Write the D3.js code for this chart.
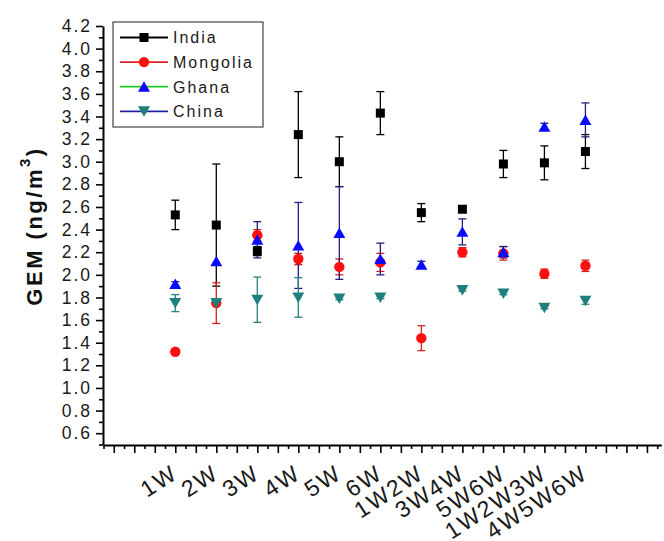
<!DOCTYPE html>
<html>
<head>
<meta charset="utf-8">
<script src="https://cdn.jsdelivr.net/npm/d3@7"></script>
<style>
  html, body { margin: 0; padding: 0; background: #fff; }
  svg { display: block; font-family: "Liberation Sans", Arial, sans-serif; }
</style>
</head>
<body>
<svg id="chart" width="664" height="541"></svg>
<script>
// ---- data ----
const categories = ["1W", "2W", "3W", "4W", "5W", "6W", "1W2W", "3W4W", "5W6W", "1W2W3W", "4W5W6W"];
const seriesNames = ["India", "Mongolia", "Ghana", "China"];
const india      = [2.53, 2.44, 2.21, 3.24, 3.00, 3.43, 2.55, 2.58, 2.98, 2.99, 3.09];
const indiaErr   = [0.13, 0.54, 0.04, 0.38, 0.22, 0.19, 0.08, 0.00, 0.12, 0.15, 0.15];
const mongolia   = [1.32, 1.75, 2.35, 2.14, 2.07, 2.11, 1.44, 2.20, 2.19, 2.01, 2.08];
const mongoliaErr= [0.02, 0.18, 0.05, 0.05, 0.07, 0.08, 0.11, 0.04, 0.06, 0.04, 0.05];
const ghana      = [1.92, 2.12, 2.31, 2.26, 2.37, 2.14, 2.09, 2.38, 2.20, 3.31, 3.37];
const ghanaErr   = [0.02, 0.00, 0.16, 0.38, 0.41, 0.14, 0.03, 0.115, 0.05, 0.03, 0.15];
const china      = [1.75, 1.75, 1.78, 1.80, 1.79, 1.80, null, 1.865, 1.835, 1.71, 1.77];
const chinaErr   = [0.075, 0.00, 0.20, 0.175, 0.01, 0.01, null, 0.01, 0.01, 0.01, 0.03];
const yMajorTicks = d3.range(6, 43, 2).map(v => v / 10);   // 0.6 ... 4.2
const yMinorTicks = d3.range(5, 42, 2).map(v => v / 10);   // 0.5 ... 4.1
const xTickValues = d3.range(-3, 52).map(v => v / 4);      // -0.75 ... 12.75

// ---- styles ----
const styles = {
  India:    { marker: "square",  fill: "#000000", err: "#000000", legendLine: "#000000" },
  Mongolia: { marker: "circle",  fill: "#ff1010", err: "#d42020", legendLine: "#e02424" },
  Ghana:    { marker: "up",      fill: "#0a0aff", err: "#202080", legendLine: "#22cc22" },
  China:    { marker: "down",    fill: "#1f7f7f", err: "#2a8080", legendLine: "#2020a0" }
};
const series = [
  { name: "India", values: india, errs: indiaErr },
  { name: "Mongolia", values: mongolia, errs: mongoliaErr },
  { name: "Ghana", values: ghana, errs: ghanaErr },
  { name: "China", values: china, errs: chinaErr }
];

const svg = d3.select("#chart");

const x = d3.scaleLinear().domain([-0.75, 12.85]).range([103.5, 661.3]);
const y = d3.scaleLinear().domain([0.5, 4.2]).range([444.5, 26]);

// ---- axes ----
const axisG = svg.append("g");
// y minor
axisG.append("g").attr("transform", "translate(103,0)")
  .call(d3.axisLeft(y).tickValues(yMinorTicks).tickSize(4).tickFormat(""))
  .call(g => g.select(".domain").remove())
  .call(g => g.selectAll("line").attr("stroke-width", 1.6));
// y major
const yAx = axisG.append("g").attr("transform", "translate(103,0)")
  .call(d3.axisLeft(y).tickValues(yMajorTicks).tickSize(7).tickSizeOuter(0).tickPadding(4).tickFormat(d3.format(".1f")));
yAx.select(".domain").attr("stroke-width", 2);
yAx.selectAll("line").attr("stroke-width", 1.6);
yAx.selectAll("text").attr("font-size", 17.5).attr("letter-spacing", "2px")
  .attr("fill", "#1a1a1a").attr("font-family", "Liberation Sans, Arial, sans-serif");

// x ticks
const xAx = axisG.append("g").attr("transform", "translate(0,445)")
  .call(d3.axisBottom(x).tickValues(xTickValues)
    .tickSize(0).tickSizeOuter(0).tickFormat(""));
xAx.select(".domain").attr("stroke-width", 2);
xAx.selectAll(".tick line")
  .attr("y2", d => (Math.abs(d * 2 - Math.round(d * 2)) < 1e-6) ? 8 : 4)
  .attr("stroke-width", 1.6);

// x category labels
svg.append("g").selectAll("text").data(categories).join("text")
  .attr("transform", (d, i) => `translate(${x(i + 1) + 4},477) rotate(-33)`)
  .attr("text-anchor", "end")
  .attr("font-size", 23)
  .attr("letter-spacing", "2px")
  .attr("fill", "#1a1a1a")
  .text(d => d);

// y label
const yl = svg.append("text")
  .attr("transform", "translate(42,226) rotate(-90)")
  .attr("text-anchor", "middle")
  .attr("font-size", 22)
  .attr("font-weight", "bold")
  .attr("letter-spacing", "2.5px")
  .attr("fill", "#111");
yl.append("tspan").text("GEM (ng/m");
yl.append("tspan").attr("font-size", 15).attr("dy", -12).text("3");
yl.append("tspan").attr("dy", 12).text(")");

// ---- marker helper ----
function drawMarker(g, type, cx, cy, fill) {
  if (type === "square") {
    g.append("rect").attr("x", cx - 4.5).attr("y", cy - 4.5).attr("width", 9).attr("height", 9).attr("fill", fill);
  } else if (type === "circle") {
    g.append("circle").attr("cx", cx).attr("cy", cy).attr("r", 5.2).attr("fill", fill);
  } else if (type === "up") {
    g.append("path").attr("d", `M${cx},${cy - 5.5}L${cx + 6},${cy + 5}L${cx - 6},${cy + 5}Z`).attr("fill", fill);
  } else {
    g.append("path").attr("d", `M${cx},${cy + 5.5}L${cx + 6},${cy - 5}L${cx - 6},${cy - 5}Z`).attr("fill", fill);
  }
}

// ---- error bars then markers ----
const plot = svg.append("g");
series.forEach(s => {
  const st = styles[s.name];
  const g = plot.append("g");
  s.values.forEach((v, i) => {
    if (v == null) return;
    const e = s.errs[i];
    if (!e) return;
    const cx = x(i + 1);
    const yt = y(v + e), yb = y(v - e);
    g.append("line").attr("x1", cx).attr("x2", cx).attr("y1", yt).attr("y2", yb)
      .attr("stroke", st.err).attr("stroke-width", 1.3);
    [yt, yb].forEach(yy => g.append("line").attr("x1", cx - 4).attr("x2", cx + 4)
      .attr("y1", yy).attr("y2", yy).attr("stroke", st.err).attr("stroke-width", 1.3));
  });
});
series.forEach(s => {
  const st = styles[s.name];
  const g = plot.append("g");
  s.values.forEach((v, i) => {
    if (v == null) return;
    drawMarker(g, st.marker, x(i + 1), y(v), st.fill);
  });
});

// ---- legend ----
const leg = svg.append("g");
leg.append("rect").attr("x", 113).attr("y", 22).attr("width", 150).attr("height", 105)
  .attr("fill", "#fff").attr("stroke", "#444").attr("stroke-width", 1.2);
seriesNames.forEach((n, i) => {
  const st = styles[n];
  const cy = 37.5 + i * 24.6;
  leg.append("line").attr("x1", 120).attr("x2", 168).attr("y1", cy).attr("y2", cy)
    .attr("stroke", st.legendLine).attr("stroke-width", 1.8);
  drawMarker(leg, st.marker, 144, cy, st.fill);
  leg.append("text").attr("x", 173).attr("y", cy + 5.8)
    .attr("font-size", 16).attr("letter-spacing", "2px").attr("fill", "#1a1a1a").text(n);
});
</script>
</body>
</html>
